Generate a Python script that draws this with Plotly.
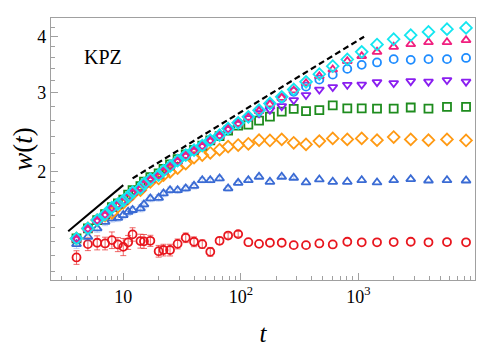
import plotly.graph_objects as go

# ---------------- data ----------------
t = [4, 5, 6, 7, 8, 9, 10, 11, 12, 14, 15, 17, 20, 22, 25, 29, 34, 40, 47, 55,
     66, 78, 95, 116, 143, 177, 223, 282, 359, 466, 606, 806, 1069, 1443, 2000,
     2793, 3955, 5684, 8258]

w_red = [1.289, 1.380, 1.390, 1.385, 1.409, 1.378, 1.361, 1.393, 1.451, 1.402,
         1.400, 1.404, 1.331, 1.339, 1.339, 1.382, 1.426, 1.397, 1.380, 1.327,
         1.404, 1.442, 1.453, 1.394, 1.382, 1.390, 1.390, 1.373, 1.373, 1.385,
         1.378, 1.397, 1.393, 1.393, 1.395, 1.397, 1.393, 1.395, 1.393]
# visible error bars (only the early points have them)
err_red = [0.045, 0.045, 0.05, 0.045, 0.06, 0.05, 0.06, 0.05, 0.05, 0.05,
           0.05, 0.04, 0.04, 0.04, 0.04, 0.035, 0.035, 0.035, 0.03, 0.03,
           0.025, 0.02, 0.02]

w_blue = [1.380, 1.433, 1.496, 1.547, 1.575, 1.579, 1.602, 1.629, 1.644, 1.658,
          1.692, 1.745, 1.750, 1.790, 1.820, 1.820, 1.837, 1.861, 1.916, 1.916,
          1.933, 1.837, 1.890, 1.916, 1.950, 1.900, 1.950, 1.940, 1.894, 1.923,
          1.900, 1.900, 1.916, 1.894, 1.916, 1.926, 1.913, 1.916, 1.913]
err_blue = [0.03, 0.03, 0.03, 0.03, 0.03, 0.03, 0.03, 0.03, 0.03, 0.03,
            0.03, 0.03, 0.03, 0.03, 0.03, 0.03, 0.03, 0.03, 0.025, 0.025,
            0.025, 0.025, 0.02, 0.02, 0.02, 0.015, 0.015, 0.015]

w_orange = [1.421, 1.496, 1.561, 1.600, 1.620, 1.672, 1.706, 1.745, 1.784, 1.821,
            1.868, 1.900, 1.933, 1.966, 2.000, 2.038, 2.086, 2.151, 2.179, 2.205,
            2.241, 2.276, 2.294, 2.309, 2.353, 2.349, 2.362, 2.321, 2.302, 2.341,
            2.374, 2.362, 2.374, 2.353, 2.390, 2.362, 2.353, 2.362, 2.349]

w_green = [1.421, 1.496, 1.561, 1.610, 1.668, 1.700, 1.733, 1.779, 1.820, 1.858,
           1.902, 1.945, 1.985, 2.031, 2.078, 2.134, 2.186, 2.238, 2.288, 2.350,
           2.402, 2.471, 2.535, 2.548, 2.600, 2.654, 2.723, 2.763, 2.730, 2.744,
           2.813, 2.768, 2.770, 2.766, 2.765, 2.782, 2.766, 2.791, 2.791]

w_purple = [1.418, 1.492, 1.557, 1.604, 1.660, 1.690, 1.721, 1.757, 1.797, 1.835,
            1.878, 1.921, 1.961, 2.007, 2.053, 2.112, 2.172, 2.228, 2.281, 2.346,
            2.406, 2.489, 2.560, 2.634, 2.702, 2.751, 2.801, 2.889, 2.965, 3.049,
            3.088, 3.125, 3.128, 3.168, 3.152, 3.184, 3.176, 3.201, 3.176]

w_dodger = [1.418, 1.493, 1.557, 1.604, 1.661, 1.691, 1.722, 1.757, 1.798, 1.836,
            1.879, 1.922, 1.962, 2.008, 2.055, 2.113, 2.174, 2.230, 2.283, 2.348,
            2.409, 2.491, 2.565, 2.646, 2.737, 2.830, 2.918, 3.015, 3.096, 3.209,
            3.292, 3.391, 3.462, 3.505, 3.565, 3.552, 3.565, 3.565, 3.587]

w_pink = [1.414, 1.489, 1.553, 1.600, 1.657, 1.687, 1.717, 1.752, 1.793, 1.831,
          1.874, 1.916, 1.956, 2.002, 2.049, 2.107, 2.168, 2.224, 2.277, 2.341,
          2.402, 2.484, 2.558, 2.639, 2.730, 2.826, 2.923, 3.036, 3.152, 3.267,
          3.381, 3.528, 3.620, 3.701, 3.797, 3.849, 3.889, 3.889, 3.930]

w_cyan = [1.421, 1.496, 1.561, 1.608, 1.665, 1.695, 1.726, 1.761, 1.802, 1.840,
          1.883, 1.926, 1.966, 2.012, 2.059, 2.118, 2.179, 2.235, 2.288, 2.353,
          2.414, 2.497, 2.571, 2.652, 2.744, 2.840, 2.938, 3.052, 3.173, 3.301,
          3.439, 3.559, 3.701, 3.843, 3.949, 4.032, 4.100, 4.158, 4.185]

# guide lines (power-law references)
solid_t = [3.4, 10]
solid_w = [1.475, 1.868]
dash_t = [12, 1120]
dash_w = [1.934, 4.0]

x_tickvals = [10, 100, 1000]
x_ticktext = ["10", "10<sup>2</sup>", "10<sup>3</sup>"]
x_minor = [3, 4, 5, 6, 7, 8, 9, 20, 30, 40, 50, 60, 70, 80, 90,
           200, 300, 400, 500, 600, 700, 800, 900,
           2000, 3000, 4000, 5000, 6000, 7000, 8000, 9000]
y_tickvals = [2, 3, 4]
y_ticktext = ["2", "3", "4"]
y_minor = [1.2, 1.3, 1.4, 1.5, 1.6, 1.7, 1.8, 1.9,
           2.2, 2.4, 2.6, 2.8, 3.2, 3.4, 3.6, 3.8, 4.2, 4.4]

# ---------------- figure ----------------
fig = go.Figure()

fig.add_trace(go.Scatter(x=solid_t, y=solid_w, mode="lines",
                         line=dict(color="black", width=2), showlegend=False))
fig.add_trace(go.Scatter(x=dash_t, y=dash_w, mode="lines",
                         line=dict(color="black", width=2.2, dash="6px,3.5px"),
                         showlegend=False))

def add(y, color, symbol, size, err=None, errcolor=None):
    n = len(err) if err is not None else 0
    if n:
        # error-bar part of the series
        fig.add_trace(go.Scatter(
            x=t[:n], y=y[:n], mode="markers", showlegend=False,
            marker=dict(symbol=symbol, size=size, color=color,
                        line=dict(color=color, width=1.8)),
            error_y=dict(type="data", array=err, color=errcolor,
                         thickness=1, width=3)))
    fig.add_trace(go.Scatter(
        x=t[n:], y=y[n:], mode="markers", showlegend=False,
        marker=dict(symbol=symbol, size=size, color=color,
                    line=dict(color=color, width=1.8))))

add(w_red, "#e8161e", "circle-open", 8, err_red, "rgba(232,40,40,0.7)")
add(w_blue, "#3a6bd4", "triangle-up-open", 8, err_blue, "rgba(90,130,225,0.35)")
add(w_orange, "#ff9a14", "diamond-open", 9)
add(w_green, "#1e8c1e", "square-open", 8)
add(w_purple, "#8a1ef0", "triangle-down-open", 8)
add(w_dodger, "#1e8cff", "circle-open", 8)
add(w_pink, "#f0207f", "triangle-up-open", 8)
add(w_cyan, "#14e6f0", "diamond-open", 9)

fig.add_annotation(text="KPZ", xref="paper", yref="paper", x=0.072, y=0.852,
                   xanchor="left", yanchor="middle", showarrow=False,
                   font=dict(family="Liberation Serif", size=20, color="black"))

axis_common = dict(showgrid=False, zeroline=False, showline=True,
                   linecolor="#a0a0a0", linewidth=1.3, mirror=True,
                   ticks="inside", ticklen=7, tickwidth=1, tickcolor="#a0a0a0",
                   automargin=False,
                   tickfont=dict(family="Liberation Serif", size=18, color="black"))

fig.update_xaxes(type="log", range=[0.385, 3.993],
                 tickvals=x_tickvals, ticktext=x_ticktext,
                 minor=dict(tickvals=x_minor, ticks="inside", ticklen=4,
                            tickcolor="#a0a0a0", showgrid=False),
                 title=dict(text="<i>t</i>", standoff=20,
                            font=dict(family="Liberation Serif", size=25, color="black")),
                 **axis_common)
fig.update_yaxes(type="log", range=[0.060, 0.6437],
                 tickvals=y_tickvals, ticktext=y_ticktext,
                 minor=dict(tickvals=y_minor, ticks="inside", ticklen=4,
                            tickcolor="#a0a0a0", showgrid=False),
                 title=dict(text="<i>w</i>(<i>t</i>)", standoff=11,
                            font=dict(family="Liberation Serif", size=27, color="black")),
                 **axis_common)

# the page body adds an 8px offset, so the figure is sized to fit the window
fig.update_layout(width=485, height=339,
                  margin=dict(l=43, r=18, t=10, b=67),
                  plot_bgcolor="white", paper_bgcolor="white",
                  showlegend=False)

fig.write_html("out.html")
